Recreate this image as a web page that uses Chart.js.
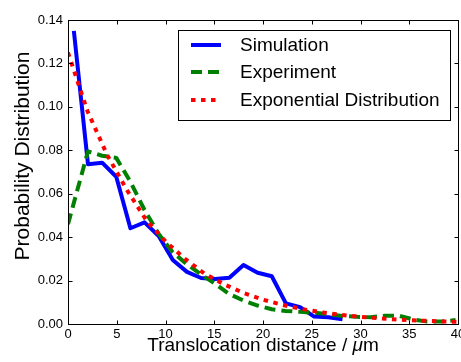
<!DOCTYPE html>
<html><head><meta charset="utf-8">
<script src="https://cdn.jsdelivr.net/npm/chart.js@4.4.1/dist/chart.umd.min.js"></script>
<style>html,body{margin:0;padding:0;background:#fff;overflow:hidden;}</style>
</head><body>
<canvas id="c" width="461" height="362" style="display:block;width:461px;height:362px"></canvas>
<script>
// ---- data ----
const simX = [0.6, 2.05, 3.5, 4.95, 6.4, 7.85, 9.3, 10.75, 12.2, 13.65, 15.1, 16.55, 18.0, 19.45, 20.9, 22.35, 23.8, 25.25, 26.7, 28.15];
const simY = [0.135, 0.0736, 0.0743, 0.0678, 0.0441, 0.0468, 0.0405, 0.0295, 0.0240, 0.0212, 0.0207, 0.0213, 0.0272, 0.0236, 0.0220, 0.0095, 0.0078, 0.0034, 0.0031, 0.0022];

const expX = [0, 2.05, 3.5, 4.95, 6.4, 7.85, 9.3, 10.75, 12.2, 13.65, 15.1, 16.55, 18.0, 19.45, 20.9, 22.35, 23.8, 25.25, 26.7, 28.15, 29.6, 31.05, 32.5, 33.95, 35.4, 36.85, 38.3, 39.75];
const expY = [0.046, 0.0795, 0.0775, 0.0765, 0.0655, 0.0525, 0.0415, 0.033, 0.0275, 0.0228, 0.0185, 0.0138, 0.0108, 0.0085, 0.0068, 0.006, 0.0056, 0.0052, 0.0045, 0.0037, 0.0033, 0.0031, 0.0038, 0.0038, 0.0021, 0.0011, 0.0011, 0.0018];

const fitX = [0, 2, 4, 6, 8, 10, 12, 14, 16, 18, 20, 22, 24, 26, 28, 30, 32, 34, 36, 38, 40];
const fitY = [0.125, 0.098, 0.078, 0.062, 0.048, 0.038, 0.030, 0.0232, 0.0183, 0.0143, 0.0112, 0.0088, 0.0069, 0.0054, 0.0042, 0.0033, 0.0026, 0.0020, 0.0016, 0.0012, 0.0010];

const seriesNames = ['Simulation', 'Experiment', 'Exponential Distribution'];
const xTickValues = [0, 5, 10, 15, 20, 25, 30, 35, 40];
const yTickValues = [0, 0.02, 0.04, 0.06, 0.08, 0.10, 0.12, 0.14];
const xTitleParts = ['Translocation distance / ', 'μ', 'm'];
const yTitle = 'Probability Distribution';

const FONT = "'Liberation Sans', Arial, sans-serif";
const toPts = (xs, ys) => xs.map((x, i) => ({x: x, y: ys[i]}));

const styles = [
  {color: '#0000ff', dash: [], width: 4},
  {color: '#008000', dash: [11, 6], width: 4},
  {color: '#ff0000', dash: [4.5, 5.5], width: 4}
];

const decor = {
  id: 'decor',
  afterDatasetsDraw(chart) {
    const {ctx, chartArea: a, scales: {x, y}} = chart;
    ctx.save();
    ctx.strokeStyle = '#000';
    ctx.lineWidth = 1;
    ctx.setLineDash([]);
    const L = Math.round(a.left) + 0.5, R = Math.round(a.right) + 0.5;
    const T = Math.round(a.top) + 0.5, B = Math.round(a.bottom) + 0.5;
    ctx.strokeRect(L, T, R - L, B - T);
    const tl = 4;
    ctx.beginPath();
    xTickValues.forEach(v => {
      const px = Math.round(x.getPixelForValue(v)) + 0.5;
      ctx.moveTo(px, B); ctx.lineTo(px, B - tl);
      ctx.moveTo(px, T); ctx.lineTo(px, T + tl);
    });
    yTickValues.forEach(v => {
      const py = Math.round(y.getPixelForValue(v)) + 0.5;
      ctx.moveTo(L, py); ctx.lineTo(L + tl, py);
      ctx.moveTo(R, py); ctx.lineTo(R - tl, py);
    });
    ctx.stroke();

    // legend
    const lx0 = 178.5, ly0 = 30.5, lx1 = 450.5, ly1 = 120.5;
    ctx.fillStyle = '#fff';
    ctx.fillRect(lx0, ly0, lx1 - lx0, ly1 - ly0);
    ctx.strokeStyle = '#000';
    ctx.lineWidth = 1;
    ctx.strokeRect(lx0, ly0, lx1 - lx0, ly1 - ly0);
    const rows = [45, 72, 100];
    ctx.font = '19px ' + FONT;
    ctx.textBaseline = 'middle';
    ctx.textAlign = 'left';
    seriesNames.forEach((name, i) => {
      const s = styles[i];
      ctx.save();
      ctx.strokeStyle = s.color;
      ctx.lineWidth = s.width;
      ctx.setLineDash(s.dash);
      ctx.lineCap = 'butt';
      ctx.beginPath();
      ctx.moveTo(191, rows[i]);
      ctx.lineTo(221, rows[i]);
      ctx.stroke();
      ctx.restore();
      ctx.fillStyle = '#000';
      ctx.fillText(name, 240, rows[i] + 1);
    });

    // x title with italic mu
    ctx.textBaseline = 'alphabetic';
    const fN = '19px ' + FONT, fI = 'italic 19px ' + FONT;
    ctx.font = fN; const w0 = ctx.measureText(xTitleParts[0]).width;
    ctx.font = fI; const w1 = ctx.measureText(xTitleParts[1]).width;
    ctx.font = fN; const w2 = ctx.measureText(xTitleParts[2]).width;
    let sx = (a.left + a.right) / 2 - (w0 + w1 + w2) / 2;
    const by = 351;
    ctx.fillStyle = '#000';
    ctx.font = fN; ctx.fillText(xTitleParts[0], sx, by); sx += w0;
    ctx.font = fI; ctx.fillText(xTitleParts[1], sx, by); sx += w1;
    ctx.font = fN; ctx.fillText(xTitleParts[2], sx, by);

    // y title
    ctx.save();
    ctx.translate(28.5, 156);
    ctx.rotate(-Math.PI / 2);
    ctx.font = '21px ' + FONT;
    ctx.textAlign = 'center';
    ctx.fillText(yTitle, 0, 0);
    ctx.restore();
    ctx.restore();
  }
};

const datasets = [
  {label: seriesNames[0], data: toPts(simX, simY), order: 2},
  {label: seriesNames[1], data: toPts(expX, expY), order: 1},
  {label: seriesNames[2], data: toPts(fitX, fitY), order: 0}
].map((d, i) => Object.assign(d, {
  borderColor: styles[i].color,
  backgroundColor: styles[i].color,
  borderWidth: styles[i].width,
  borderDash: styles[i].dash,
  borderCapStyle: 'butt',
  borderJoinStyle: 'round',
  pointRadius: 0,
  tension: 0,
  fill: false
}));

new Chart(document.getElementById('c'), {
  type: 'line',
  data: {datasets},
  options: {
    responsive: false,
    animation: false,
    devicePixelRatio: 1,
    layout: {padding: {top: 20, right: 3, left: 0, bottom: 0}},
    plugins: {legend: {display: false}, tooltip: {enabled: false}},
    scales: {
      x: {
        type: 'linear', min: 0, max: 40,
        afterBuildTicks: s => { s.ticks = xTickValues.map(v => ({value: v})); },
        afterFit: s => { s.height = 38; s.paddingLeft = 0; s.paddingRight = 0; },
        grid: {display: false, drawTicks: false},
        border: {display: false},
        ticks: {autoSkip: false, maxRotation: 0, padding: 3, color: '#000',
                font: {family: FONT, size: 13}, callback: v => String(v)}
      },
      y: {
        type: 'linear', min: 0, max: 0.14,
        afterBuildTicks: s => { s.ticks = yTickValues.map(v => ({value: v})); },
        afterFit: s => { s.width = 68; s.paddingTop = 0; s.paddingBottom = 0; },
        grid: {display: false, drawTicks: false},
        border: {display: false},
        ticks: {autoSkip: false, padding: 5, color: '#000',
                font: {family: FONT, size: 13}, callback: v => Number(v).toFixed(2)}
      }
    }
  },
  plugins: [decor]
});
</script>
</body></html>
